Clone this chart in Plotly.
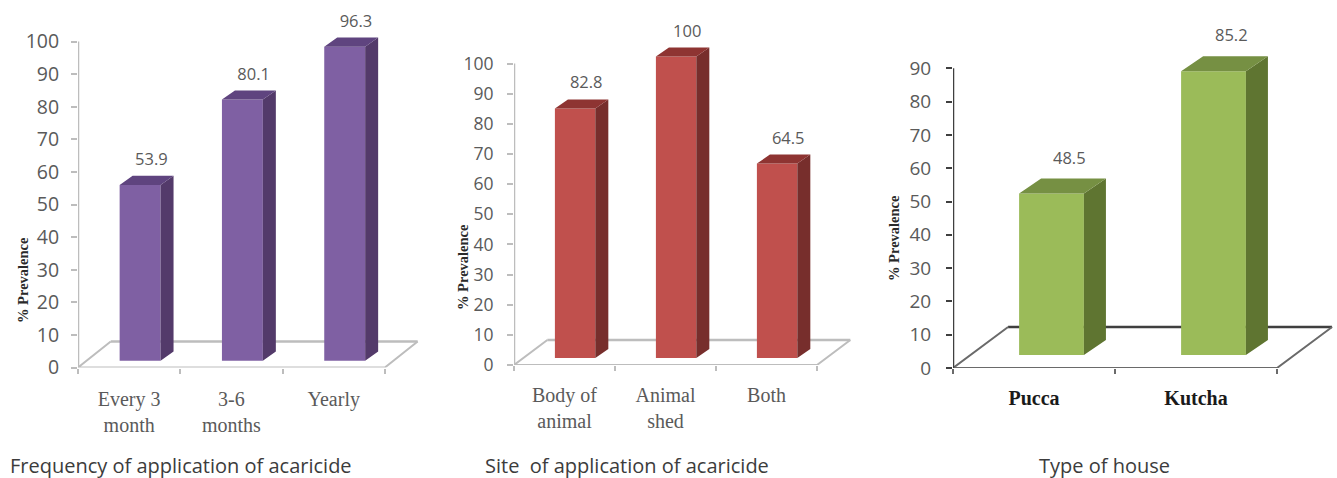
import plotly.graph_objects as go

# ---------- data ----------
freq_labels = ["Every 3<br>month", "3-6<br>months", "Yearly"]
freq_values = [53.9, 80.1, 96.3]
site_labels = ["Body of<br>animal", "Animal<br>shed", "Both"]
site_values = [82.8, 100, 64.5]
house_labels = ["<b>Pucca</b>", "<b>Kutcha</b>"]
house_values = [48.5, 85.2]
freq_ticks = list(range(0, 101, 10))
site_ticks = list(range(0, 101, 10))
house_ticks = list(range(0, 91, 10))

W, H = 1337, 478
SANS = "Open Sans, Noto Sans, sans-serif"
SERIF = "Liberation Serif, serif"
GREY = "#5a5a5a"

panels = [
    dict(labels=freq_labels, values=freq_values, ticks=freq_ticks, x0=78, unit=102.3, y0=367.5, scale=3.26,
         shift=0.107, bw=0.4, base=2.1, ddx=0.127, ddy=2.8, fdx=0.32, fdy=8.0, lab_dy=7.4,
         front="#7f60a3", side="#533a6a", top="#5f447f", axis="#bdbdbd", floor="#bdbdbd",
         title="Frequency of application of acaricide", tx=180.5, ytx=23, yty=280, lab_font=20, lab_color=GREY,
         tick_font=19.5, tick_off=8, lab_off=17),
    dict(labels=site_labels, values=site_values, ticks=site_ticks, x0=514, unit=101.0, y0=365, scale=3.015,
         shift=0.105, bw=0.4, base=2.3, ddx=0.129, ddy=3.0, fdx=0.33, fdy=8.3, lab_dy=8.0,
         front="#c0504d", side="#772e2c", top="#8e3432", axis="#bdbdbd", floor="#bdbdbd",
         title="Site\u00a0 of application of acaricide", tx=627, ytx=463, yty=267, lab_font=20, lab_color=GREY,
         tick_font=17.5, tick_off=10, lab_off=16),
    dict(labels=house_labels, values=house_values, ticks=house_ticks, x0=953, unit=162.0, y0=368, scale=3.33,
         shift=0.108, bw=0.4, base=3.9, ddx=0.136, ddy=4.5, fdx=0.34, fdy=12.3, lab_dy=10.2,
         front="#9bbb59", side="#5f7531", top="#769043", axis="#3f3f3f", floor="#6a6a6a",
         title="Type of house", tx=1104.5, ytx=894, yty=238, lab_font=20, lab_color="#1a1a1a",
         tick_font=19, tick_off=11, lab_off=16),
]

fig = go.Figure()
layout = dict(
    width=W, height=H, margin=dict(l=0, r=0, t=0, b=0, pad=0, autoexpand=False), autosize=False,
    paper_bgcolor="white", plot_bgcolor="rgba(0,0,0,0)", showlegend=False,
    barmode="overlay", shapes=[], annotations=[],
)

for i, p in enumerate(panels, start=1):
    xa, ya = f"x{i}", f"y{i}"
    n = len(p["values"])
    xmax = n + p["fdx"] + 0.02
    ytop_px = 4
    ymax = (p["y0"] - ytop_px) / p["scale"]
    centers = [k + 0.5 + p["shift"] for k in range(n)]
    tops = [v + p["base"] for v in p["values"]]

    layout[f"xaxis{i}"] = dict(
        domain=[p["x0"] / W, (p["x0"] + p["unit"] * xmax) / W], range=[0, xmax], anchor=ya,
        showgrid=False, zeroline=False, showline=False, automargin=False,
        tickmode="array", tickvals=[k + 0.5 for k in range(n)], ticktext=p["labels"], ticks="",
        ticklabelstandoff=p["lab_off"],
        tickfont=dict(family=SERIF, size=p["lab_font"], color=p["lab_color"]),
        minor=dict(tickmode="array", tickvals=list(range(n + 1)), ticks="outside", ticklen=5,
                   tickwidth=1.5, tickcolor=p["floor"], showgrid=False),
    )
    layout[f"yaxis{i}"] = dict(
        domain=[1 - p["y0"] / H, 1 - ytop_px / H], range=[0, ymax], anchor=xa,
        showgrid=False, zeroline=False, showline=False, automargin=False,
        tickmode="array", tickvals=p["ticks"], ticks="outside", ticklen=6, tickwidth=1.5,
        tickcolor=p["axis"], ticklabelstandoff=p["tick_off"],
        tickfont=dict(family=SANS, size=p["tick_font"], color=GREY),
    )

    # floor back edge sits below the marks, so it passes behind the bars
    fdx, fdy = p["fdx"], p["fdy"]
    layout["shapes"].append(dict(
        type="line", layer="below", xref=xa, yref=ya, x0=fdx, x1=n + fdx, y0=fdy, y1=fdy,
        line=dict(color=p["axis"], width=2.5),
    ))
    # front, slanted edges and value axis line
    fig.add_trace(go.Scatter(
        x=[fdx, 0, n, n + fdx], y=[fdy, 0, 0, fdy], xaxis=xa, yaxis=ya, mode="lines", cliponaxis=False,
        line=dict(color=p["floor"], width=2), hoverinfo="skip",
    ))
    fig.add_trace(go.Scatter(
        x=[0, 0], y=[p["ticks"][0], p["ticks"][-1]], xaxis=xa, yaxis=ya, mode="lines", cliponaxis=False,
        line=dict(color=p["axis"], width=2.5), hoverinfo="skip",
    ))

    # front faces
    fig.add_trace(go.Bar(
        x=centers, y=p["values"], base=p["base"], width=p["bw"], xaxis=xa, yaxis=ya,
        marker=dict(color=p["front"], line=dict(width=0)),
    ))

    # side and top faces, derived from the values
    half = p["bw"] / 2
    sx, sy, tx, ty = [], [], [], []
    for c, t in zip(centers, tops):
        l, r = c - half, c + half
        sx += [r, r + p["ddx"], r + p["ddx"], r, None]
        sy += [p["base"], p["base"] + p["ddy"], t + p["ddy"], t, None]
        tx += [l, r, r + p["ddx"], l + p["ddx"], None]
        ty += [t, t, t + p["ddy"], t + p["ddy"], None]
    fig.add_trace(go.Scatter(x=sx, y=sy, xaxis=xa, yaxis=ya, mode="lines", fill="toself",
                             fillcolor=p["side"], line=dict(width=0), hoverinfo="skip"))
    fig.add_trace(go.Scatter(x=tx, y=ty, xaxis=xa, yaxis=ya, mode="lines", fill="toself",
                             fillcolor=p["top"], line=dict(width=0), hoverinfo="skip"))

    # value labels
    fig.add_trace(go.Scatter(
        x=[c + 0.11 for c in centers], y=[t + p["lab_dy"] for t in tops], xaxis=xa, yaxis=ya,
        mode="text", text=[str(v) for v in p["values"]], textposition="middle center", cliponaxis=False,
        textfont=dict(family=SANS, size=16.5, color=GREY),
    ))

    layout["annotations"].append(dict(
        text=p["title"], xref="paper", yref="paper", x=p["tx"] / W, y=1 - 465 / H,
        xanchor="center", yanchor="middle", showarrow=False,
        font=dict(family=SANS, size=20, color="#3c3c3c"),
    ))
    layout["annotations"].append(dict(
        text="<b>% Prevalence</b>", xref="paper", yref="paper", x=p["ytx"] / W, y=1 - p["yty"] / H,
        xanchor="center", yanchor="middle", showarrow=False, textangle=-90,
        font=dict(family=SERIF, size=14.5, color="#2a2a2a"),
    ))

fig.update_layout(**layout)
fig.write_html("out.html", config=dict(displayModeBar=False), post_script="document.body.style.margin='0';")
